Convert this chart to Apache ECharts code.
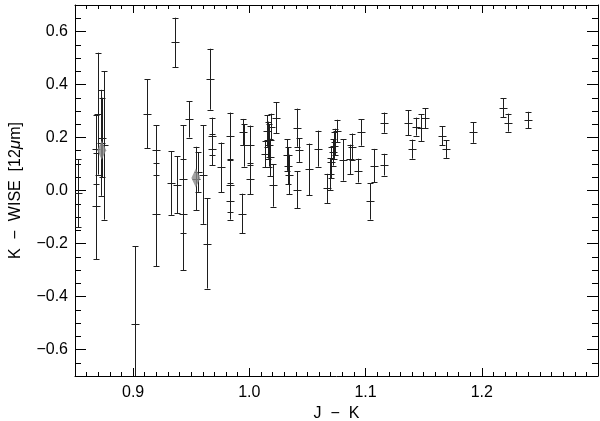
<!DOCTYPE html>
<html>
<head>
<meta charset="utf-8">
<script src="https://cdn.jsdelivr.net/npm/echarts@6/dist/echarts.min.js"></script>
<style>html,body{margin:0;padding:0;background:#fff}#c{width:600px;height:421px}</style>
</head>
<body>
<div id="c"></div>
<script>
// J - K colour of each star
const jk = [0.853,0.870,0.875,0.868,0.868,0.872,0.873,0.9017,0.912,0.920,0.920,0.9325,0.938,0.9362,0.943,0.943,0.948,0.954,0.956,0.960,0.9633,0.966,0.968,0.968,0.9756,0.983,0.983,0.983,0.9935,0.9945,0.995,1.001,1.001,1.0135,1.0155,1.016,1.017,1.018,1.0205,1.023,1.019,1.032,1.033,1.034,1.0408,1.0425,1.041,1.0517,1.0589,1.0667,1.069,1.0704,1.0718,1.0725,1.074,1.0756,1.0805,1.0862,1.0885,1.0935,1.0963,1.104,1.1069,1.1158,1.1158,1.1365,1.1403,1.143,1.148,1.1509,1.166,1.169,1.1925,1.2184,1.2222,1.2394];
// K - WISE [12 micron] colour
const kwise = [-0.01,0.29,0.17,0.155,-0.06,0.18,0.20,-0.504,0.29,-0.09,0.153,0.028,0.022,0.559,0.044,-0.09,0.268,0.045,0.07,0.06,-0.20,0.42,0.205,0.155,0.087,0.204,0.02,-0.04,-0.087,0.22,0.17,0.17,0.045,0.138,0.225,0.19,0.17,0.125,0.019,0.275,0.24,0.134,0.094,0.06,0.237,0.153,0.003,0.08,0.158,0.008,0.0625,0.106,0.144,0.169,0.183,0.225,0.115,0.117,0.165,0.075,0.219,-0.041,0.094,0.256,0.0975,0.256,0.156,0.241,0.237,0.272,0.206,0.156,0.219,0.3125,0.256,0.266];
// 1-sigma errors on K - WISE
const kwErr = [0.128,0.23,0.28,0.13,0.20,0.20,0.15,0.294,0.13,0.195,0.093,0.12,0.107,0.093,0.203,0.21,0.068,0.12,0.075,0.186,0.17,0.115,0.07,0.06,0.094,0.09,0.10,0.07,0.075,0.05,0.08,0.075,0.06,0.05,0.06,0.07,0.08,0.07,0.08,0.058,0.05,0.06,0.07,0.075,0.072,0.045,0.07,0.097,0.068,0.055,0.06,0.06,0.05,0.05,0.05,0.042,0.078,0.056,0.05,0.045,0.05,0.069,0.063,0.038,0.041,0.047,0.036,0.034,0.05,0.038,0.036,0.033,0.039,0.036,0.034,0.031];
// group means (grey diamonds)
const meanJK = [0.873, 0.954];
const meanKW = [0.152, 0.047];
// axis ranges
const xRange = [0.85, 1.3];
const yRange = [-0.7, 0.7];

const FONT = 'Liberation Sans, Arial, sans-serif';
const errData = jk.map((x, i) => [x, kwise[i], kwErr[i]]);
const meanData = meanJK.map((x, i) => [x, meanKW[i]]);

function px(v){ return Math.round(v) + 0.5; }
function renderErr(params, api) {
  const x = api.value(0), y = api.value(1), e = api.value(2);
  const hiV = Math.min(y + e, yRange[1]);
  const loV = Math.max(y - e, yRange[0]);
  const c = api.coord([x, y]);
  const hi = api.coord([x, hiV]);
  const lo = api.coord([x, loV]);
  const st = { stroke: '#1e1e1e', lineWidth: 1 };
  const X = px(c[0]);
  const kids = [
    { type: 'line', shape: { x1: X, y1: hi[1], x2: X, y2: lo[1] }, style: st },
    { type: 'line', shape: { x1: X - 4, y1: px(c[1]), x2: X + 4, y2: px(c[1]) }, style: st }
  ];
  if (y + e <= yRange[1]) kids.push({ type: 'line', shape: { x1: X - 3, y1: px(hi[1]), x2: X + 3, y2: px(hi[1]) }, style: st });
  if (y - e >= yRange[0]) kids.push({ type: 'line', shape: { x1: X - 3, y1: px(lo[1]), x2: X + 3, y2: px(lo[1]) }, style: st });
  return { type: 'group', children: kids };
}

function fmt(v) { return (v < 0 ? '\u2212' : '') + Math.abs(v).toFixed(1); }

function xAx(pos, showLabel) {
  return {
    type: 'value', position: pos, min: xRange[0], max: xRange[1], splitNumber: 5,
    axisLine: { show: true, onZero: false, lineStyle: { color: '#000', width: 1 } },
    axisTick: { show: true, inside: true, length: 8, lineStyle: { color: '#000' } },
    minorTick: { show: true, splitNumber: 10, length: 4, lineStyle: { color: '#000' } },
    splitLine: { show: false },
    axisLabel: { show: showLabel, showMinLabel: false, showMaxLabel: false, color: '#000', fontSize: 16, fontFamily: FONT, margin: 9, formatter: fmt },
    name: showLabel ? 'J  \u2212  K' : '', nameLocation: 'middle', nameGap: 29,
    nameTextStyle: { color: '#000', fontSize: 16, fontFamily: FONT }
  };
}
function yAx(pos, showLabel) {
  return {
    type: 'value', position: pos, min: yRange[0], max: yRange[1], splitNumber: 7,
    axisLine: { show: true, onZero: false, lineStyle: { color: '#000', width: 1 } },
    axisTick: { show: true, inside: true, length: 11, lineStyle: { color: '#000' } },
    minorTick: { show: true, splitNumber: 4, length: 6, lineStyle: { color: '#000' } },
    splitLine: { show: false },
    axisLabel: { show: showLabel, showMinLabel: false, showMaxLabel: false, color: '#000', fontSize: 16, fontFamily: FONT, margin: 7, formatter: fmt },
    name: showLabel ? 'K  \u2212  WISE  [12{mu|\u03bc}m]' : '', nameLocation: 'middle', nameGap: 51, nameRotate: 90,
    nameTextStyle: { color: '#000', fontSize: 16, fontFamily: FONT,
      rich: { mu: { fontStyle: 'italic', fontSize: 17, fontFamily: FONT, color: '#000' } } }
  };
}

const chart = echarts.init(document.getElementById('c'), null, { renderer: 'canvas' });
chart.setOption({
  animation: false,
  backgroundColor: '#fff',
  grid: { left: 75, right: 2, top: 5, bottom: 45, containLabel: false, outerBoundsMode: 'none' },
  xAxis: [xAx('bottom', true), xAx('top', false)],
  yAxis: [yAx('left', true), yAx('right', false)],
  series: [
    { type: 'custom', renderItem: renderErr, data: errData, clip: true, z: 2,
      encode: { x: 0, y: 1 } },
    { type: 'scatter', data: meanData, symbol: 'diamond', symbolSize: [9, 19],
      itemStyle: { color: '#8a8a8a' }, z: 3 }
  ]
});
</script>
</body>
</html>
